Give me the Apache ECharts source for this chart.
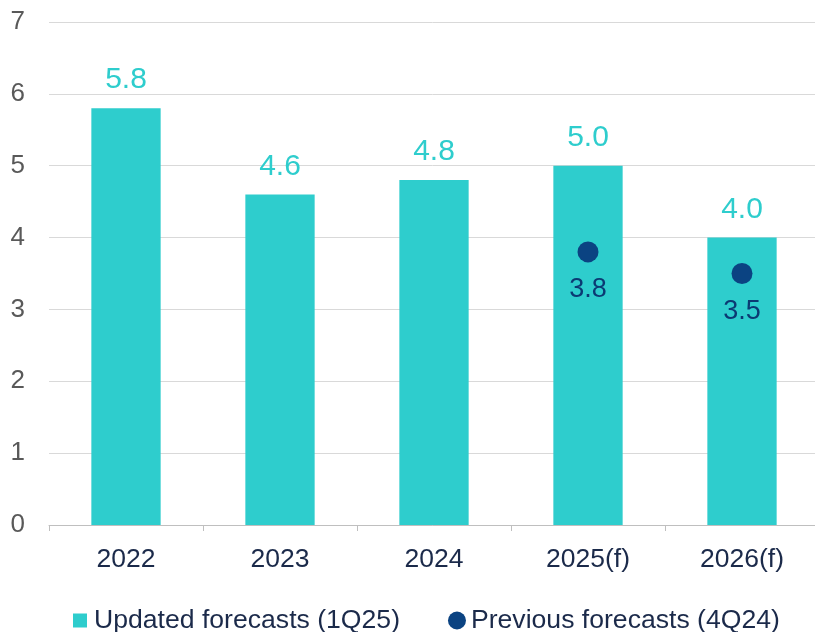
<!DOCTYPE html>
<html><head><meta charset="utf-8">
<script src="https://cdn.jsdelivr.net/npm/echarts@6/dist/echarts.min.js"></script>
<style>html,body{margin:0;padding:0;background:#fff}#c{width:815px;height:632px}</style>
</head><body><div id="c"></div>
<script>
const categories = ['2022','2023','2024','2025(f)','2026(f)'];
const updatedForecasts = [5.8, 4.6, 4.8, 5.0, 4.0];
const previousForecasts = [null, null, null, 3.8, 3.5];
const seriesNames = ['Updated forecasts (1Q25)', 'Previous forecasts (4Q24)'];

const FONT = '"Liberation Sans", Arial, sans-serif';
const chart = echarts.init(document.getElementById('c'), null, {renderer:'canvas'});
chart.setOption({
  animation: false,
  backgroundColor: '#ffffff',
  grid: {left: 49, top: 22, width: 770, height: 503, containLabel: false, outerBoundsMode: 'none'},
  legend: {
    top: 607, left: 71, padding: 0,
    itemWidth: 18, itemHeight: 18, itemGap: 48,
    textStyle: {fontFamily: FONT, fontSize: 26.6, color: '#1B2A4A'},
    data: [
      {name: seriesNames[0], icon: 'path://M0,0 M18,18 M2,2 L16,2 L16,16 L2,16 Z'},
      {name: seriesNames[1], icon: 'circle'}
    ]
  },
  xAxis: {
    type: 'category', data: categories,
    axisLine: {lineStyle: {color: '#BFBFBF', width: 1}},
    axisTick: {show: true, length: 6, lineStyle: {color: '#BFBFBF'}},
    axisLabel: {fontFamily: FONT, fontSize: 26.5, color: '#1B2A4A', margin: 21}
  },
  yAxis: {
    type: 'value', min: 0, max: 7, interval: 1,
    axisLine: {show: false}, axisTick: {show: false},
    splitLine: {lineStyle: {color: '#D9D9D9', width: 1}},
    axisLabel: {fontFamily: FONT, fontSize: 26, color: '#595959', margin: 24}
  },
  series: [
    {
      name: seriesNames[0], type: 'bar', data: updatedForecasts,
      barWidth: '45%',
      itemStyle: {color: '#2ECDCD'},
      label: {show: true, position: 'top', distance: 13, fontFamily: FONT, fontSize: 30, color: '#2ECDCD',
        formatter: p => p.value.toFixed(1)}
    },
    {
      name: seriesNames[1], type: 'scatter', data: previousForecasts,
      symbol: 'circle', symbolSize: 21,
      itemStyle: {color: '#0B4382', opacity: 1},
      label: {show: true, position: 'bottom', distance: 14, fontFamily: FONT, fontSize: 27, color: '#0B3A73',
        formatter: p => p.value == null ? '' : Number(p.value).toFixed(1)}
    }
  ]
});
</script></body></html>
